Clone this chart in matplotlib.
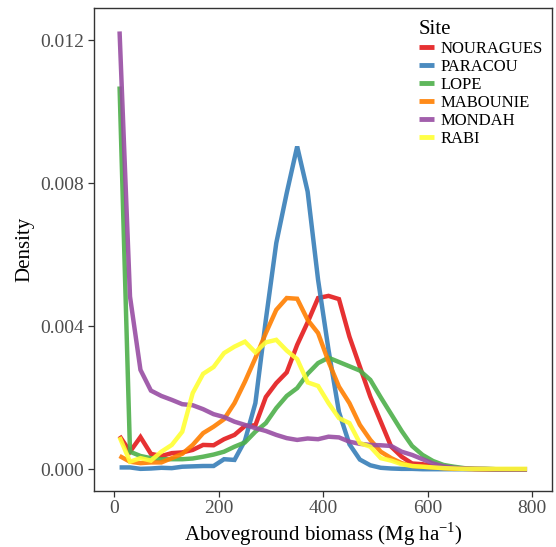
import matplotlib
matplotlib.use("Agg")
import matplotlib.pyplot as plt
import numpy as np

plt.rcParams['font.family'] = ['Liberation Serif', 'DejaVu Serif']
plt.rcParams['mathtext.fontset'] = 'custom'
plt.rcParams['mathtext.rm'] = 'Liberation Serif'

# biomass bins (Mg/ha), centre of each 20-wide bin
agb = np.arange(10, 800, 20)

sites = ["NOURAGUES", "PARACOU", "LOPE", "MABOUNIE", "MONDAH", "RABI"]
colors = ["#E41A1C", "#377EB8", "#4DAF4A", "#FF7F00", "#984EA3", "#FFFF33"]

nouragues = [0.00093, 0.00049, 0.00090, 0.00043, 0.00037, 0.00045, 0.00047, 0.00054,
             0.00068, 0.00067, 0.00084, 0.00096, 0.00121, 0.00123, 0.00202, 0.00241,
             0.00271, 0.00348, 0.00411, 0.00479, 0.00485, 0.00476, 0.00371, 0.00287,
             0.00203, 0.00133, 0.00063, 0.00035, 0.00016, 0.00014, 0.00008, 0.00005,
             0.00003, 0.00001, 0.00001, 0.0, 0.0, 0.0, 0.0, 0.0]
paracou = [0.00005, 0.00005, 0.00001, 0.00002, 0.00004, 0.00003, 0.00007, 0.00008,
           0.00009, 0.00009, 0.00028, 0.00026, 0.00080, 0.00185, 0.00418, 0.00633,
           0.00773, 0.00903, 0.00777, 0.00530, 0.00334, 0.00160, 0.00070, 0.00027,
           0.00011, 0.00004, 0.00002, 0.00001, 0.00001, 0.0, 0.0, 0.0,
           0.0, 0.0, 0.0, 0.0, 0.0, 0.0, 0.0, 0.0]
lope = [0.01071, 0.00049, 0.00037, 0.00031, 0.00028, 0.00028, 0.00028, 0.00030,
        0.00035, 0.00041, 0.00049, 0.00063, 0.00075, 0.00105, 0.00129, 0.00171,
        0.00205, 0.00227, 0.00267, 0.00297, 0.00312, 0.00300, 0.00288, 0.00276,
        0.00250, 0.00201, 0.00154, 0.00107, 0.00065, 0.00040, 0.00023, 0.00012,
        0.00007, 0.00003, 0.00001, 0.00001, 0.0, 0.0, 0.0, 0.0]
mabounie = [0.00037, 0.00021, 0.00017, 0.00019, 0.00019, 0.00031, 0.00043, 0.00068,
            0.00101, 0.00119, 0.00140, 0.00185, 0.00245, 0.00311, 0.00381, 0.00446,
            0.00479, 0.00477, 0.00418, 0.00381, 0.00301, 0.00231, 0.00185, 0.00124,
            0.00082, 0.00049, 0.00031, 0.00017, 0.00009, 0.00007, 0.00005, 0.00003,
            0.00001, 0.00001, 0.0, 0.0, 0.0, 0.0, 0.0, 0.0]
mondah = [0.01225, 0.00483, 0.00278, 0.00220, 0.00205, 0.00194, 0.00182, 0.00179,
          0.00168, 0.00154, 0.00146, 0.00133, 0.00124, 0.00115, 0.00107, 0.00096,
          0.00087, 0.00082, 0.00086, 0.00084, 0.00091, 0.00089, 0.00077, 0.00071,
          0.00068, 0.00067, 0.00065, 0.00049, 0.00040, 0.00028, 0.00016, 0.00008,
          0.00004, 0.00002, 0.00001, 0.00001, 0.0, 0.0, 0.0, 0.0]
rabi = [0.00090, 0.00021, 0.00031, 0.00024, 0.00049, 0.00068, 0.00105, 0.00213,
        0.00267, 0.00286, 0.00325, 0.00343, 0.00357, 0.00327, 0.00355, 0.00362,
        0.00332, 0.00308, 0.00243, 0.00233, 0.00185, 0.00143, 0.00129, 0.00073,
        0.00063, 0.00031, 0.00024, 0.00014, 0.00009, 0.00007, 0.00005, 0.00003,
        0.00002, 0.00001, 0.00001, 0.00001, 0.00001, 0.00001, 0.00001, 0.00001]

series = [nouragues, paracou, lope, mabounie, mondah, rabi]

fig = plt.figure(figsize=(5.56, 5.47), dpi=100)
ax = fig.add_axes([0.169, 0.103, 0.824, 0.882])

for name, col, vals in zip(sites, colors, series):
    ax.plot(agb, vals, color=col, lw=3.2, alpha=0.9, label=name,
            solid_capstyle='butt', solid_joinstyle='miter')

ax.set_xlim(-39, 838)
ax.set_ylim(-0.0006, 0.0129)
ax.set_xticks([0, 200, 400, 600, 800])
ax.set_yticks([0.0, 0.004, 0.008, 0.012])
ax.set_yticklabels(["0.000", "0.004", "0.008", "0.012"])

for s in ax.spines.values():
    s.set_color("#333333")
    s.set_linewidth(1.0)
ax.tick_params(direction='out', length=4, width=0.9, color="#333333",
               labelsize=14, labelcolor="#4D4D4D", pad=3)

ax.set_xlabel(r"Aboveground biomass (Mg ha$^{-1}$)", fontsize=15, labelpad=2)
ax.set_ylabel("Density", fontsize=15, labelpad=4)

leg = ax.legend(title="Site", loc='upper left', bbox_to_anchor=(0.683, 1.0),
                frameon=False, fontsize=12, title_fontsize=15,
                handlelength=0.95, handletextpad=0.35, labelspacing=0.12,
                borderaxespad=0.3)
leg._legend_box.align = "left"
for h in leg.get_lines():
    h.set_linewidth(3.5)
    h.set_alpha(0.9)

fig.savefig("out.png", dpi=100)
